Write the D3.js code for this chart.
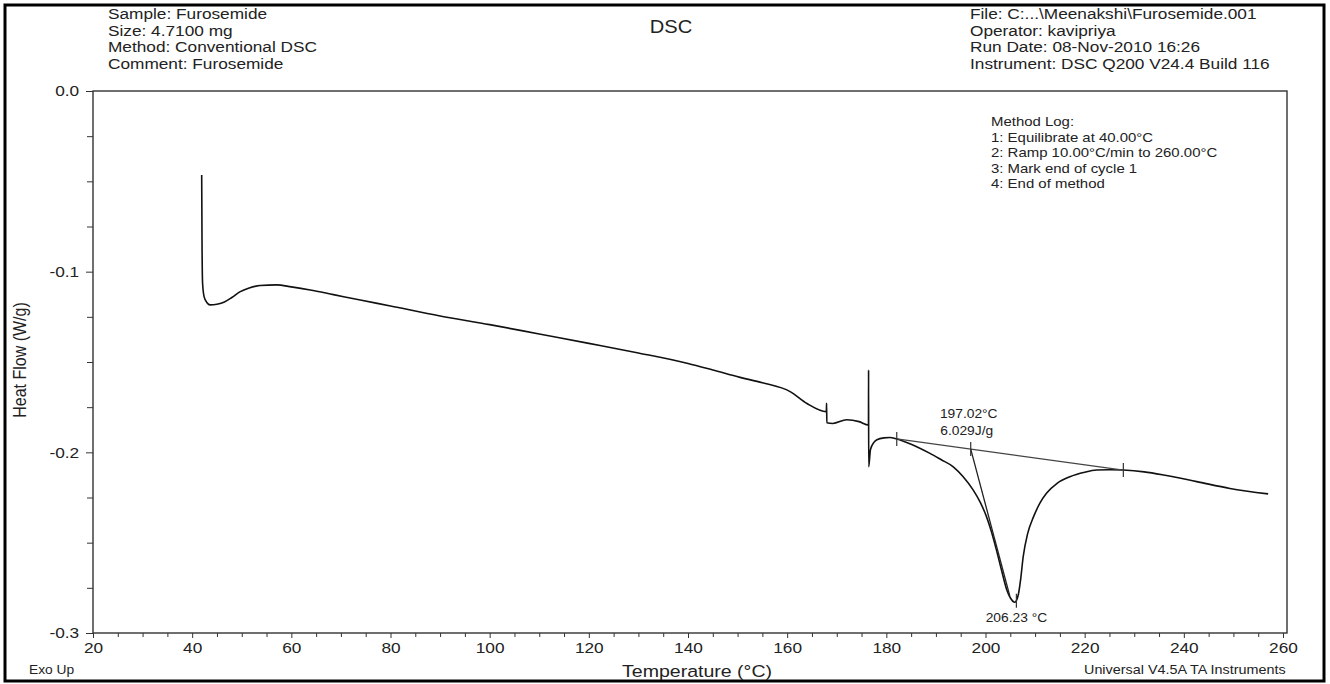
<!DOCTYPE html>
<html>
  <head>
    <meta charset="UTF-8" />
    <title>DSC - Furosemide</title>
    <script src="https://cdnjs.cloudflare.com/ajax/libs/d3/7.8.5/d3.min.js"></script>
    <style>
      body {
        margin: 0;
        padding: 0;
        background: #fff;
      }
      svg text {
        font-family: "Liberation Sans", Arial, sans-serif;
        fill: #222;
      }
      .axis path, .axis line {
        stroke: #333;
      }
    </style>
  </head>

  <body>
    <svg id="dsc" width="1330" height="684"></svg>

    <script>
      // heat flow trace (temperature in °C, heat flow in W/g)
      const temps = [
        41.92, 41.98, 42.1, 42.4, 43.0, 43.6, 45.0, 46.5, 48.0, 49.6, 51.5, 53.7,
        57.0, 60.0, 63.8, 68.5, 73.9, 80, 90, 100, 110, 120, 130, 140, 145, 150.5,
        155, 160.6, 164, 167.9, 167.95, 168.0, 169.2, 172, 174.5, 176.4, 176.42, 176.44,
        176.8, 177.5, 178.1, 179.5, 180.7, 182.1, 185, 188.8, 191, 193.5, 195.5,
        197.5, 199, 200.2, 201.2, 202.2, 203.3, 204.3, 205.0, 205.9, 206.6, 207.1,
        207.6, 208.5, 209.7, 211, 212.3, 214.5, 217, 220, 222.4, 225, 227.8, 232,
        235.9, 242.6, 249.3, 257
      ];
      const heatFlow = [
        -0.0465, -0.0800, -0.1063, -0.1138, -0.1172, -0.1184, -0.1180, -0.1168, -0.1143, -0.1112, -0.1090, -0.1077,
        -0.1073, -0.1084, -0.1101, -0.1127, -0.1157, -0.1190, -0.1245, -0.1293, -0.1345, -0.1397, -0.1450, -0.1508, -0.1544, -0.1585,
        -0.1615, -0.1664, -0.1730, -0.1775, -0.1728, -0.1836, -0.1840, -0.1820, -0.1830, -0.1849, -0.1544, -0.2080,
        -0.1985, -0.1945, -0.1930, -0.1920, -0.1918, -0.1926, -0.1955, -0.2006, -0.2040, -0.2080, -0.2135,
        -0.2208, -0.2280, -0.2356, -0.2440, -0.2540, -0.2660, -0.2762, -0.2805, -0.2830, -0.2790, -0.2700,
        -0.2578, -0.2450, -0.2356, -0.2280, -0.2227, -0.2170, -0.2135, -0.2110, -0.2098, -0.2096, -0.2098, -0.2108,
        -0.2125, -0.2162, -0.2200, -0.2230
      ];

      // peak integration
      const baselineT = [182.1, 227.8];
      const baselineV = [-0.1926, -0.2098];
      const tangentT = [197.02, 204.9];
      const tangentV = [-0.1982, -0.2795];
      const onsetT = 197.02;
      const enthalpy = 6.029;
      const peakT = 206.23;
      const peakV = -0.2822;

      // axis ticks
      const xMajor = [20, 40, 60, 80, 100, 120, 140, 160, 180, 200, 220, 240, 260];
      const yMajor = [0, -0.1, -0.2, -0.3];

      // texts
      const headerLeft = ["Sample: Furosemide", "Size:  4.7100 mg", "Method: Conventional DSC", "Comment: Furosemide"];
      const headerRight = ["File: C:...\\Meenakshi\\Furosemide.001", "Operator: kavipriya", "Run Date: 08-Nov-2010 16:26", "Instrument: DSC Q200 V24.4 Build 116"];
      const methodLog = ["Method Log:", "1: Equilibrate at 40.00°C", "2: Ramp 10.00°C/min to  260.00°C", "3: Mark end of cycle 1", "4: End of method"];

      const svg = d3.select("#dsc");
      const stretch = 1.15; // the printout is a little wider than normal type

      // plot box
      const plotLeft = 93, plotTop = 91, plotRight = 1287, plotBottom = 633;

      const x = d3.scaleLinear().domain([20, 260]).range([plotLeft, 1283]);
      const y = d3.scaleLinear().domain([0, -0.3]).range([plotTop, plotBottom]);

      function addText(g, str, px, py, size, anchor) {
        return g.append("text")
          .attr("transform", `translate(${px},${py}) scale(${stretch},1)`)
          .attr("font-size", size)
          .attr("text-anchor", anchor || "start")
          .text(str);
      }

      // outer frame of the page
      svg.append("rect")
        .attr("x", 5).attr("y", 5)
        .attr("width", 1319).attr("height", 676)
        .attr("fill", "none")
        .attr("stroke", "#000")
        .attr("stroke-width", 3);

      // header
      headerLeft.forEach((s, i) => addText(svg, s, 108, 19 + i * 16.5, 15));
      headerRight.forEach((s, i) => addText(svg, s, 970, 19 + i * 16.5, 15));
      addText(svg, "DSC", 671, 33, 17.5, "middle");

      // x axis (major + minor)
      const xMinor = d3.range(25, 260, 5).filter(v => v % 20 !== 0);
      svg.append("g").attr("class", "axis")
        .attr("transform", `translate(0,${plotBottom})`)
        .call(d3.axisBottom(x).tickValues(xMinor).tickSize(4).tickSizeOuter(0).tickFormat(""))
        .call(g => g.select(".domain").remove());
      const xAxis = svg.append("g").attr("class", "axis")
        .attr("transform", `translate(0,${plotBottom})`)
        .call(d3.axisBottom(x).tickValues(xMajor).tickSize(5).tickPadding(4).tickSizeOuter(0))
        .call(g => g.select(".domain").remove());
      xAxis.selectAll("text")
        .attr("font-size", 15)
        .attr("transform", `scale(${stretch},1)`)
        .attr("fill", "#222");

      // y axis (major + minor)
      const yMinor = d3.range(0, 13).map(i => -i * 0.025).filter(v => Math.abs(Math.round(v * 40)) % 4 !== 0);
      svg.append("g").attr("class", "axis")
        .attr("transform", `translate(${plotLeft},0)`)
        .call(d3.axisLeft(y).tickValues(yMinor).tickSize(6).tickSizeOuter(0).tickFormat(""))
        .call(g => g.select(".domain").remove());
      const yAxis = svg.append("g").attr("class", "axis")
        .attr("transform", `translate(${plotLeft},0)`)
        .call(d3.axisLeft(y).tickValues(yMajor).tickSize(7).tickPadding(5).tickSizeOuter(0)
          .tickFormat(d => d.toFixed(1)))
        .call(g => g.select(".domain").remove());
      yAxis.selectAll("text")
        .attr("font-size", 15)
        .attr("transform", `scale(${stretch},1)`)
        .attr("fill", "#222");

      // plot frame
      svg.append("rect")
        .attr("x", plotLeft).attr("y", plotTop)
        .attr("width", plotRight - plotLeft).attr("height", plotBottom - plotTop)
        .attr("fill", "none")
        .attr("stroke", "#333")
        .attr("stroke-width", 1.4);

      // axis titles
      addText(svg, "Temperature (°C)", 697, 677, 17, "middle");
      svg.append("text")
        .attr("transform", `translate(26,360) rotate(-90) scale(1,${stretch})`)
        .attr("font-size", 16)
        .attr("text-anchor", "middle")
        .text("Heat Flow (W/g)");
      addText(svg, "Exo Up", 29, 674, 12);
      addText(svg, "Universal V4.5A TA Instruments", 1084, 674, 12.5);

      // method log
      methodLog.forEach((s, i) => addText(svg, s, 991, 126 + i * 15.6, 13));

      // trace (temps strictly increasing, so monotoneX keeps the spikes vertical)
      const pts = temps.map((t, i) => [t, heatFlow[i]]);
      const line = d3.line()
        .x(d => x(d[0]))
        .y(d => y(d[1]))
        .curve(d3.curveMonotoneX);

      svg.append("path")
        .datum(pts)
        .attr("d", line)
        .attr("fill", "none")
        .attr("stroke", "#111")
        .attr("stroke-width", 1.6);

      // integration baseline + tangent
      const straight = d3.line().x(d => x(d[0])).y(d => y(d[1]));
      svg.append("path")
        .datum(baselineT.map((t, i) => [t, baselineV[i]]))
        .attr("d", straight)
        .attr("fill", "none")
        .attr("stroke", "#444")
        .attr("stroke-width", 1.3);
      svg.append("path")
        .datum(tangentT.map((t, i) => [t, tangentV[i]]))
        .attr("d", straight)
        .attr("fill", "none")
        .attr("stroke", "#222")
        .attr("stroke-width", 1.3);

      // small markers
      const marks = [
        [baselineT[0], baselineV[0]],
        [baselineT[1], baselineV[1]],
        [tangentT[0], tangentV[0]],
        [peakT, peakV]
      ];
      svg.selectAll(".mark")
        .data(marks)
        .join("line")
        .attr("class", "mark")
        .attr("x1", d => x(d[0])).attr("x2", d => x(d[0]))
        .attr("y1", d => y(d[1]) - 7).attr("y2", d => y(d[1]) + 7)
        .attr("stroke", "#333")
        .attr("stroke-width", 1.2);

      // annotations
      addText(svg, onsetT.toFixed(2) + "°C", x(onsetT) - 2, y(tangentV[0]) - 31, 12, "middle");
      addText(svg, enthalpy.toFixed(3) + "J/g", x(onsetT) - 4, y(tangentV[0]) - 14, 12, "middle");
      addText(svg, peakT.toFixed(2) + " °C", x(peakT), y(peakV) + 21, 12, "middle");
    </script>
  </body>
</html>
